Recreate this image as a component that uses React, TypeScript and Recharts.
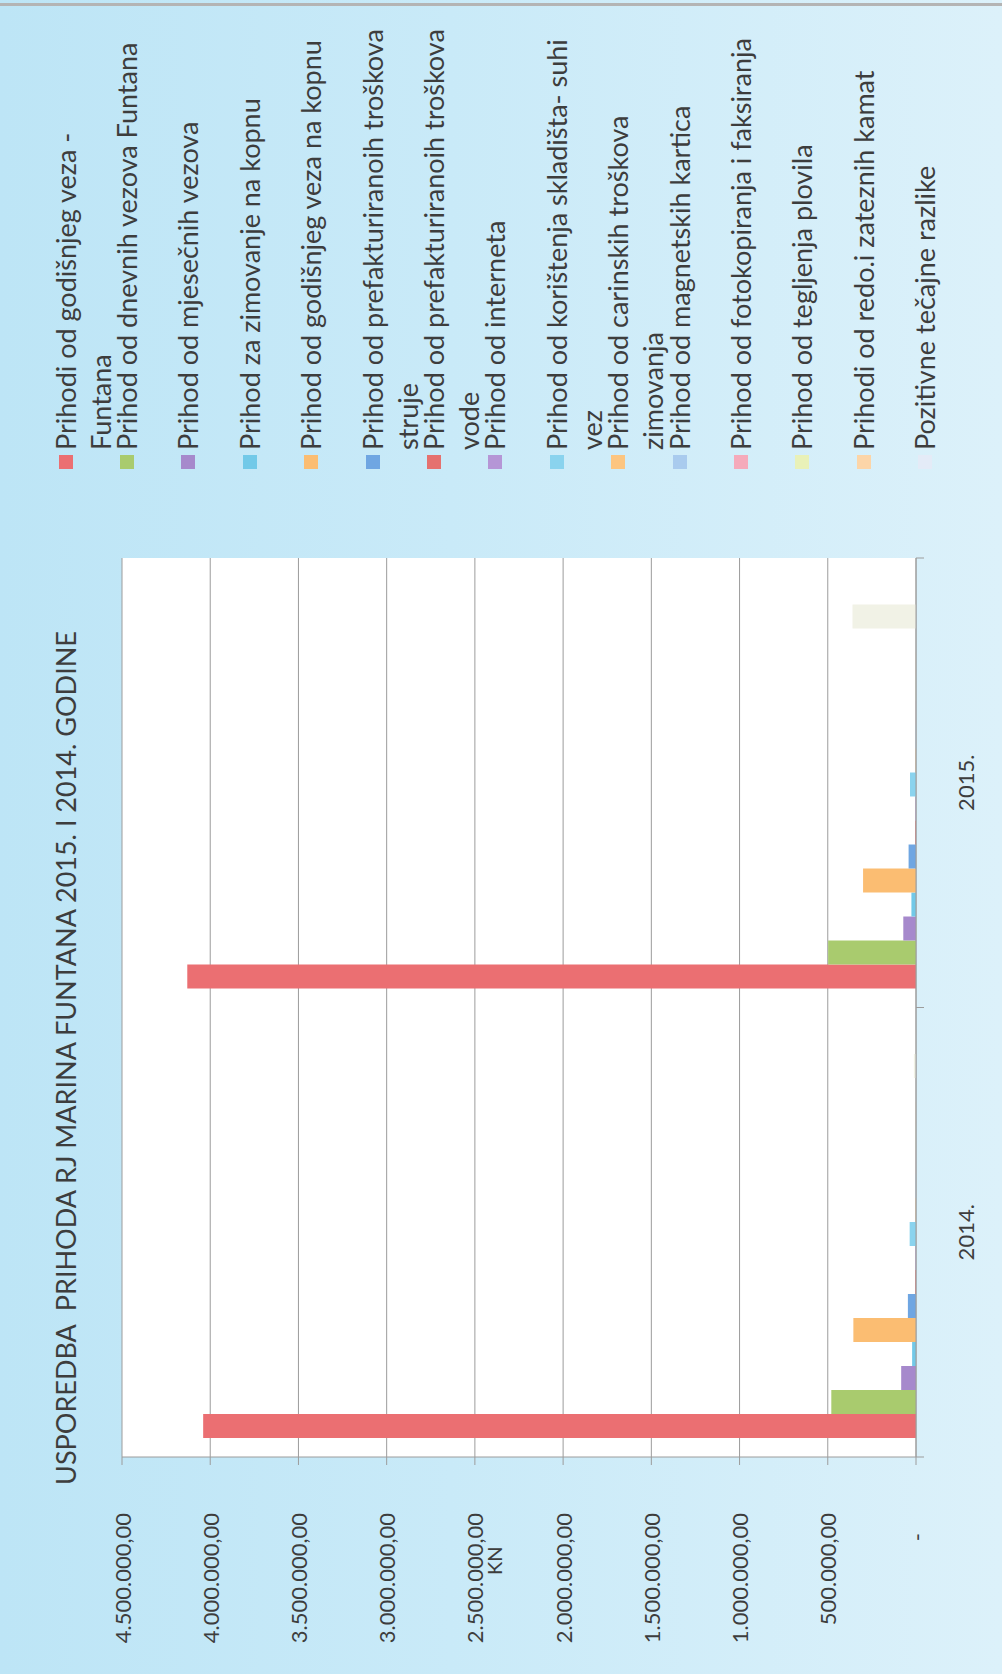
import React from 'react';
import { BarChart, Bar, XAxis, YAxis, CartesianGrid } from 'recharts';

// chart is drawn landscape and then turned a quarter turn left, like the scanned page
const W = 1674;
const H = 1002;

const categories = ['2014.', '2015.'];

const seriesNames = [
  'Prihodi od godišnjeg veza -\nFuntana',
  'Prihod od dnevnih vezova Funtana',
  'Prihod od mjesečnih vezova',
  'Prihod za zimovanje na kopnu',
  'Prihod od godišnjeg veza na kopnu',
  'Prihod od prefakturiranoih troškova\nstruje',
  'Prihod od prefakturiranoih troškova\nvode',
  'Prihod od interneta',
  'Prihod od korištenja skladišta- suhi\nvez',
  'Prihod od carinskih troškova\nzimovanja',
  'Prihod od magnetskih kartica',
  'Prihod od fotokopiranja i faksiranja',
  'Prihod od tegljenja plovila',
  'Prihodi od redo.i zateznih kamat',
  'Pozitivne tečajne razlike',
  'Serija 16',
  'Serija 17',
];

const seriesColors = [
  '#eb6f72', '#a9cb6e', '#a689cc', '#72c9e8', '#fbbd72', '#6fa6e2',
  '#e5716f', '#b596d6', '#8ad3ee', '#fcc580', '#a9cbee', '#f5aabb',
  '#e9f1b8', '#fcd5a8', '#e4ebf7', '#f1f2e6', '#f3f3ea',
];

const values2014 = [
  4040000, 480000, 84000, 22000, 355000, 46000, 4000, 3000, 36000,
  2000, 1500, 500, 1000, 800, 600, 12000, 1000,
];
const values2015 = [
  4130000, 498000, 72000, 26000, 300000, 42000, 4000, 3000, 34000,
  2000, 1500, 500, 1000, 800, 600, 360000, 1000,
];

const yTicks = [0, 500000, 1000000, 1500000, 2000000, 2500000, 3000000, 3500000, 4000000, 4500000];

// only 15 entries fit in the legend box of the original
const legendCount = 15;

const yearValues = [values2014, values2015];
const data = categories.map((year, c) => {
  const row: Record<string, string | number> = { year };
  seriesNames.forEach((_, i) => {
    row['s' + i] = yearValues[c][i];
  });
  return row;
});

const PLOT = { left: 217, right: 1116, top: 122, bottom: 916 };
const FONT = 'Lato, "Open Sans", sans-serif';
const TEXT = '#3d3d3d';
const GRID = '#9c9c9c';

const fmt = (v: number) => {
  if (v === 0) return '-';
  const s = Math.round(v).toString().replace(/\B(?=(\d{3})+(?!\d))/g, '.');
  return s + ',00';
};

const YTick = (props: any) => {
  const { x, y, payload } = props;
  const zero = payload.value === 0;
  return (
    <text
      x={zero ? x - 20 : x}
      y={y}
      textAnchor="end"
      dominantBaseline="central"
      fill={TEXT}
      fontSize={22}
      fontFamily={FONT}
    >
      {fmt(payload.value)}
    </text>
  );
};

const XTick = (props: any) => {
  const { x, y, payload } = props;
  const half = payload.offset > 0 ? payload.offset : (PLOT.right - PLOT.left) / categories.length / 2;
  return (
    <g>
      <line x1={x - half} x2={x - half} y1={y} y2={y + 8} stroke={GRID} />
      <line x1={x + half} x2={x + half} y1={y} y2={y + 8} stroke={GRID} />
      <text x={x} y={y + 49} textAnchor="middle" dominantBaseline="central" fill={TEXT} fontSize={22} fontFamily={FONT}>
        {payload.value}
      </text>
    </g>
  );
};

const Legend = () => (
  <div style={{ position: 'absolute', left: 1205, top: 0 }}>
    {seriesNames.slice(0, legendCount).map((name, i) => (
      <div key={i} style={{ position: 'absolute', left: 0, top: 65 + 61.4 * i - 17.5, width: 460 }}>
        <div
          style={{
            position: 'absolute',
            left: 0,
            top: 11,
            width: 14,
            height: 14,
            background: seriesColors[i],
          }}
        />
        <div
          style={{
            position: 'absolute',
            left: 19,
            top: 0,
            whiteSpace: 'pre',
            fontFamily: FONT,
            fontSize: 27,
            lineHeight: '35px',
            color: TEXT,
          }}
        >
          {name}
        </div>
      </div>
    ))}
  </div>
);

export default function App() {
  return (
    <div style={{ position: 'absolute', left: 0, top: 0, width: H, height: W, overflow: 'hidden', background: '#fff' }}>
      <div
        style={{
          position: 'absolute',
          left: 0,
          top: 0,
          width: W,
          height: H,
          transformOrigin: '0 0',
          transform: `translateY(${W}px) rotate(-90deg)`,
          background: 'linear-gradient(to bottom, #bde5f6 0%, #c9eaf8 45%, #dcf1fa 100%)',
        }}
      >
        <div style={{ position: 'absolute', left: W - 6, top: 0, width: 3, height: H, background: '#b4b4b4' }} />
        <div
          style={{
            position: 'absolute',
            left: 187,
            top: 66 - 19,
            width: 858,
            textAlign: 'center',
            fontFamily: FONT,
            fontSize: 27,
            lineHeight: '38px',
            color: TEXT,
            whiteSpace: 'pre',
          }}
        >
          USPOREDBA  PRIHODA RJ MARINA FUNTANA 2015. I 2014. GODINE
        </div>
        <div
          style={{
            position: 'absolute',
            left: 99,
            top: 482,
            fontFamily: FONT,
            fontSize: 20,
            lineHeight: '24px',
            color: TEXT,
          }}
        >
          KN
        </div>
        <Legend />
        <div style={{ position: 'absolute', left: 0, top: 0 }}>
          <BarChart
            width={W}
            height={H}
            data={data}
            margin={{ top: PLOT.top, right: W - PLOT.right, left: 0, bottom: H - PLOT.bottom - 60 }}
            barCategoryGap={19}
            barGap={0}
          >
            <CartesianGrid horizontal vertical={false} stroke={GRID} fill="#ffffff" fillOpacity={1} />
            <XAxis
              dataKey="year"
              height={60}
              axisLine={{ stroke: GRID }}
              tickLine={false}
              tickSize={0}
              tickMargin={0}
              tick={<XTick />}
              interval={0}
            />
            <YAxis
              type="number"
              width={PLOT.left}
              domain={[0, 4500000]}
              ticks={yTicks}
              interval={0}
              axisLine={{ stroke: GRID }}
              tickLine={{ stroke: GRID }}
              tickSize={8}
              tickMargin={48}
              tick={<YTick />}
            />
            {seriesNames.map((name, i) => (
              <Bar key={i} dataKey={'s' + i} name={name} fill={seriesColors[i]} isAnimationActive={false} />
            ))}
          </BarChart>
        </div>
      </div>
    </div>
  );
}
